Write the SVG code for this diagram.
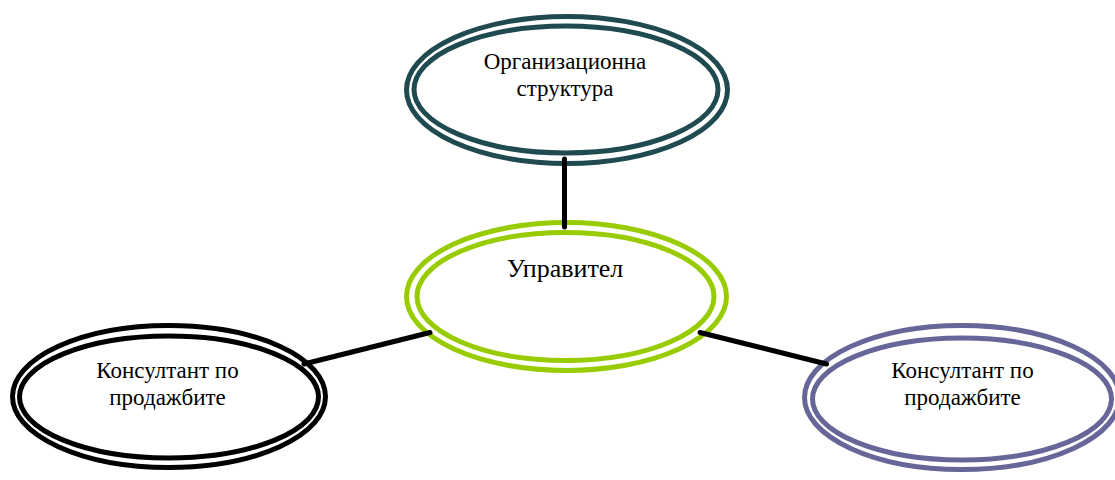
<svg xmlns="http://www.w3.org/2000/svg" width="1115" height="480" viewBox="0 0 1115 480">
  <style>
    .ring { fill: none; stroke-width: 5; }
    .teal { stroke: #1f4a4f; }
    .lime { stroke: #99cc00; }
    .ink { stroke: #000000; }
    .slate { stroke: #666699; }
    .label { font-family: "Liberation Serif", "Times New Roman", serif; font-size: 23px; fill: #000000; text-anchor: middle; }
    .big { font-size: 26px; }
    .link { stroke: #000000; stroke-width: 5; stroke-linecap: round; fill: none; }
  </style>
  <rect width="1115" height="480" fill="#ffffff"/>

  <!-- top: organisational structure -->
  <g id="node-structure">
    <ellipse class="ring teal" cx="567" cy="90" rx="160.5" ry="73.5"/>
    <ellipse class="ring teal" cx="566" cy="89.5" rx="152" ry="63.5"/>
    <text class="label" x="565" y="68.5">Организационна</text>
    <text class="label" x="565" y="95.5">структура</text>
  </g>

  <!-- centre: manager -->
  <g id="node-manager">
    <ellipse class="ring lime" cx="566.5" cy="296.5" rx="160" ry="74"/>
    <ellipse class="ring lime" cx="565.5" cy="296.5" rx="148.5" ry="64"/>
    <text class="label big" x="565" y="277">Управител</text>
  </g>

  <!-- bottom left: sales consultant -->
  <g id="node-consultant-left">
    <ellipse class="ring ink" cx="169" cy="396.5" rx="156.5" ry="71"/>
    <ellipse class="ring ink" cx="169" cy="397" rx="149.5" ry="61"/>
    <text class="label" x="167.5" y="378">Консултант по</text>
    <text class="label" x="167.5" y="405">продажбите</text>
  </g>

  <!-- bottom right: sales consultant -->
  <g id="node-consultant-right">
    <ellipse class="ring slate" cx="962" cy="397.5" rx="157.5" ry="72"/>
    <ellipse class="ring slate" cx="962" cy="399" rx="149.5" ry="61"/>
    <text class="label" x="962.5" y="378">Консултант по</text>
    <text class="label" x="962.5" y="405">продажбите</text>
  </g>

  <!-- connectors -->
  <g id="connectors">
    <line class="link" x1="564.5" y1="159" x2="564.5" y2="227"/>
    <line class="link" x1="304" y1="364" x2="430" y2="332.5"/>
    <line class="link" x1="700" y1="332.5" x2="826.5" y2="364"/>
  </g>
</svg>
